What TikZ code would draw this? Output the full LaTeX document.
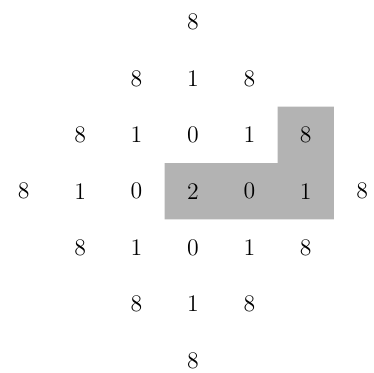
\documentclass[tikz,border=0pt]{standalone}
\usepackage{xcolor}
\definecolor{cell-grey}{HTML}{B3B3B3}

\begin{document}
\begin{tikzpicture}[x=1cm, y=1cm,
      every node/.style={font=\large, inner sep=0pt}]
    \useasboundingbox (-3.42,-3.21) rectangle (3.21,3.39);
    % shaded cells
    \fill[cell-grey] (-0.5,-0.5) -- (2.5,-0.5) -- (2.5,1.5) -- (1.5,1.5)
          -- (1.5,0.5) -- (-0.5,0.5) -- cycle;
    % values, by distance from the centre
    \node (c) at (0,0) {2};
    \foreach \x/\y [count=\i] in {1/0,0/1,-1/0,0/-1}
      \node (a\i) at (\x,\y) {0};
    \foreach \x/\y [count=\i] in {2/0,1/1,0/2,-1/1,-2/0,-1/-1,0/-2,1/-1}
      \node (b\i) at (\x,\y) {1};
    \foreach \x/\y [count=\i] in {3/0,2/1,1/2,0/3,-1/2,-2/1,-3/0,-2/-1,
                                  -1/-2,0/-3,1/-2,2/-1}
      \node (d\i) at (\x,\y) {8};
  \end{tikzpicture}
\end{document}
